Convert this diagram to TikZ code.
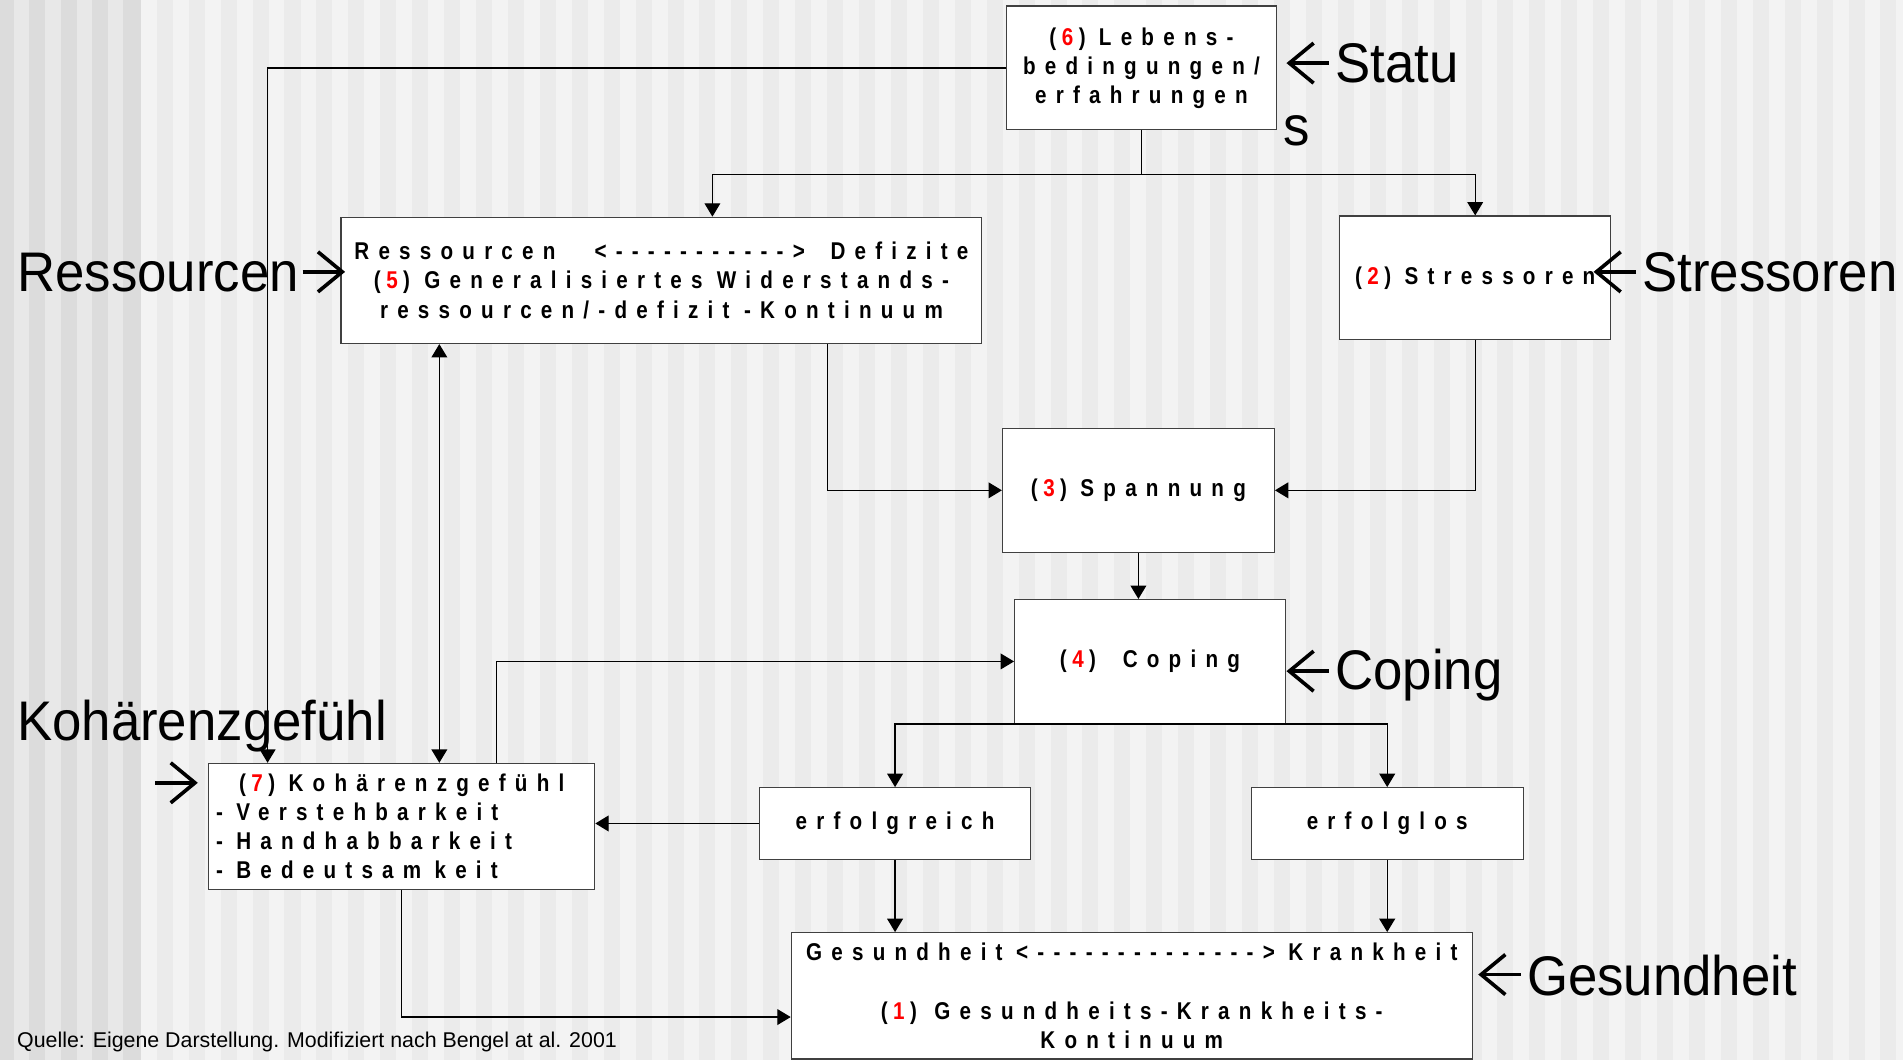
\documentclass[tikz,border=0pt]{standalone}
\usepackage{fontspec}
\usepackage{xcolor}
\usepackage{tikz}
\usetikzlibrary{positioning,arrows.meta,calc}
\setmainfont{Liberation Sans}
\newfontfamily\boxfont{Liberation Sans}[LetterSpace=38,FakeStretch=0.85,Ligatures=TeXOff]
\newfontfamily\lblfont{Liberation Sans}[FakeStretch=0.945]
\definecolor{cstripeA}{RGB}{243,243,243}
\definecolor{cstripeB}{RGB}{235,235,235}
\definecolor{cstripeC}{RGB}{220,220,220}
\definecolor{cstripeD}{RGB}{232,232,232}
\definecolor{cline}{RGB}{64,64,64}
\newcommand{\nr}[1]{\hspace{4.5pt}\textcolor{red}{#1}\hspace{4.5pt}}
\newcommand{\boxtxt}{\boxfont\bfseries\fontsize{20}{24}\selectfont}
\newcommand{\lbltxt}{\lblfont\fontsize{46}{52}\selectfont}

\begin{document}
\begin{tikzpicture}[x=1pt,y=-1pt,
  b/.style={draw=cline,fill=white,line width=1pt,inner sep=0pt,align=center,font=\boxtxt,
    execute at begin node={\spaceskip=11pt plus 2pt\relax}},
  lbl/.style={inner sep=0pt,font=\lbltxt},
  a/.style={-{Triangle[length=11pt,width=13pt]},line width=1pt},
  aa/.style={{Triangle[length=11pt,width=13pt]}-{Triangle[length=11pt,width=13pt]},line width=1pt},
  la/.style={-{Straight Barb[length=20pt,width=33pt]},line width=3pt},
]
% Background stripes
\useasboundingbox (0,0) rectangle (1568,873);
\fill[cstripeA] (0,0) rectangle (1568,873);
\foreach \k in {0,...,54} \fill[cstripeB] ({129.2+26.3*\k},0) rectangle ++(13.2,873);
\fill[cstripeC] (0,0) rectangle (116,873);
\foreach \k in {0,...,3} \fill[cstripeD] ({11.5+25.8*\k},0) rectangle ++(12.6,873);

% Boxes
\node[b,minimum width=223pt,minimum height=102pt] (leben) at (940.5,56) {(\nr{6}) Lebens-\\bedingungen/\\erfahrungen};
\node[b,minimum width=528pt,minimum height=104pt,text width=506pt] (ress) at (545,231) {Ressourcen \hfill<----------->\hfill Defizite\\(\nr{5}) Generalisiertes Widerstands-\\ressourcen/-defizit -Kontinuum};
\node[b,minimum width=223pt,minimum height=102pt] (stress) at (1215.5,229) {(\nr{2}) Stressoren};
\node[b,minimum width=224pt,minimum height=102pt] (spann) at (938,404) {(\nr{3}) Spannung};
\node[b,minimum width=223pt,minimum height=102pt] (coping) at (947.5,545) {(\nr{4})\ \ Coping};
\node[b,minimum width=223pt,minimum height=59pt] (erfg) at (737.5,678.5) {erfolgreich};
\node[b,minimum width=224pt,minimum height=59pt] (erfl) at (1143,678.5) {erfolglos};
\node[b,minimum width=318pt,minimum height=104pt,text width=306pt,align=left] (koh) at (331,681) {\makebox[\hsize]{(\nr{7}) Kohärenzgefühl}\\- Verstehbarkeit\\- Handhabbarkeit\\- Bedeutsam keit};
\node[b,minimum width=561pt,minimum height=104pt,text width=545pt] (gesund) at (932.5,820.5) {Gesundheit <--------------> Krankheit\\[24pt](\nr{1}) Gesundheits-Krankheits-\\Kontinuum};

% Connectors
\draw[a] (leben.west) -| ([xshift=49pt]koh.north west);
\draw[a] (leben.south) -- ++(0,36) -| ([xshift=42pt]ress.north);
\draw[a] (leben.south) -- ++(0,36) -| (stress.north);
\draw[a] ([xshift=137pt]ress.south) |- (spann.west);
\draw[a] (stress.south) |- (spann.east);
\draw[a] (spann.south) -- (spann.south |- coping.north);
\draw[aa] ([xshift=-183pt]ress.south) -- ([xshift=-183pt]ress.south |- koh.north);
\draw[a] ([xshift=78pt]koh.north) |- (coping.west);
\draw[a] (coping.south) -| (erfg.north);
\draw[a] (coping.south) -| (erfl.north);
\draw[a] (erfg.west) -- (erfg.west -| koh.east);
\draw[a] (erfg.south) -- (erfg.south |- gesund.north);
\draw[a] (erfl.south) -- (erfl.south |- gesund.north);
\draw[a] (koh.south) |- ([yshift=-17.5pt]gesund.west);

% Labels
\node[lbl,anchor=base west,align=left] (statlbl) at (1057,120) {\hspace*{43pt}Statu\\s};
\draw[la] ([xshift=38pt,yshift=68pt]statlbl.base west) -- ++(-35,0);
\node[lbl,anchor=base west] (resslbl) at (14,240) {Ressourcen};
\draw[la] ([xshift=3pt,yshift=16pt]resslbl.base east) -- ++(35,0);
\node[lbl,anchor=base west] (stresslbl) at (1353,240) {Stressoren};
\draw[la] ([xshift=-5pt,yshift=16pt]stresslbl.base west) -- ++(-35,0);
\node[lbl,anchor=base west] (kohlbl) at (14,610) {Kohärenzgefühl};
\draw[la] ([xshift=114pt,yshift=-35pt]kohlbl.base west) -- ++(35,0);
\node[lbl,anchor=base west] (coplbl) at (1100,568) {Coping};
\draw[la] ([xshift=-5pt,yshift=15pt]coplbl.base west) -- ++(-35,0);
\node[lbl,anchor=base west] (geslbl) at (1258,820) {Gesundheit};
\draw[la] ([xshift=-5pt,yshift=17pt]geslbl.base west) -- ++(-35,0);
\node[inner sep=0pt,anchor=base west,font=\fontsize{17.6}{20}\selectfont] (quelle) at (14,863) {Quelle: Eigene Darstellung. Modifiziert nach Bengel at al. 2001};
\end{tikzpicture}
\end{document}
